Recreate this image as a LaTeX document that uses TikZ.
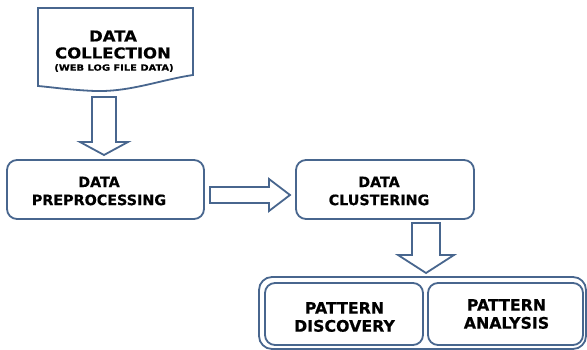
\documentclass[tikz,border=0pt]{standalone}
\usepackage{fontspec}
\setmainfont{DejaVu Sans}
\newfontfamily\lblA{DejaVu Sans}[FakeBold=0.5]
\newfontfamily\lblB{DejaVu Sans}[FakeStretch=1.1,FakeBold=0.5]
\newfontfamily\lblC{DejaVu Sans}[FakeStretch=1.15,FakeBold=0.3]
\definecolor{edge}{RGB}{72,102,142}
\tikzset{
  outline/.style={draw=edge, line width=1.8pt, fill=white},
  roundbox/.style={outline, rounded corners=10pt},
  blockarrow/.style={draw=edge, line width=1.8pt, fill=white, line join=miter},
  lblmid/.style={inner sep=0pt, align=center, text=black, font=\lblA\bfseries\fontsize{14.3}{18}\selectfont},
  lblwide/.style={inner sep=0pt, align=center, text=black, font=\lblA\bfseries\fontsize{15.8}{18}\selectfont},
  lbldoc/.style={inner sep=0pt, text=black, font=\lblB\bfseries\fontsize{15}{16}\selectfont},
  lblsmall/.style={inner sep=0pt, text=black, font=\lblC\bfseries\fontsize{8.6}{10}\selectfont},
}
\begin{document}
\begin{tikzpicture}[x=1pt,y=-1pt]
\useasboundingbox (0,0) rectangle (587,350);
% document shape
\draw[outline] (38,8) -- (193,8) -- (193,75)
  .. controls (160,80) and (130,92) .. (95,91)
  .. controls (70,90) and (50,87) .. (38,86) -- cycle;
\node[lbldoc] (docA) at (113,36) {DATA};
\node[lbldoc] (docB) at (113,53) {COLLECTION};
\node[lblsmall] (docC) at (114,68) {(WEB LOG FILE DATA)};
% boxes
\draw[roundbox] (7,160) rectangle (204,219);
\coordinate (pre) at (105.5,189.5);
\node[lblmid] (preT) at (99,191) {DATA\\PREPROCESSING};
\draw[roundbox] (296,160) rectangle (474,219);
\coordinate (clu) at (385,189.5);
\node[lblmid] (cluT) at (379,191) {DATA\\CLUSTERING};
% container
\draw[roundbox, rounded corners=13pt] (259,277) rectangle (586,349);
\draw[roundbox] (265,283) rectangle (423,345);
\node[lblwide] (disT) at (344.5,317) {PATTERN\\DISCOVERY};
\draw[roundbox] (428,283) rectangle (583,345);
\node[lblwide] (anaT) at (506.5,314) {PATTERN\\ANALYSIS};
% block arrows
\draw[blockarrow] (92,97) -- (116,97) -- (116,142) -- (128,142) -- (104,155)
  -- (80,142) -- (92,142) -- cycle;
\draw[blockarrow] (210,187) -- (269,187) -- (269,179) -- (290,195) -- (269,211)
  -- (269,203) -- (210,203) -- cycle;
\draw[blockarrow] (412,223) -- (440,223) -- (440,255) -- (454,255) -- (426,273)
  -- (398,255) -- (412,255) -- cycle;
\end{tikzpicture}
\end{document}
